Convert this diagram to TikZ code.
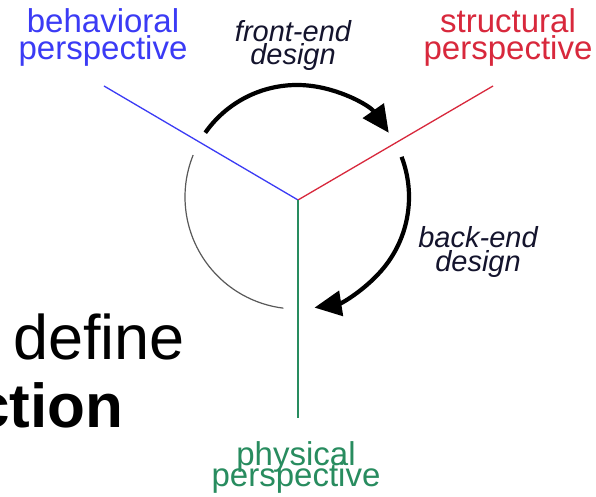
\documentclass[tikz,border=0pt]{standalone}
\usepackage{fontspec}
\setmainfont{Liberation Sans}
\usetikzlibrary{arrows.meta}
\definecolor{behblue}{RGB}{59,59,245}
\definecolor{strred}{RGB}{216,40,60}
\definecolor{phygreen}{RGB}{40,140,95}
\definecolor{labink}{RGB}{20,20,45}
\newcommand\mytightlines{\lineskiplimit=-30pt\relax\lineskip=0pt\relax}
\tikzset{
  axis/.style={line width=1.3pt},
  cyclearc/.style={line width=4.2pt, -{Triangle[length=27pt,width=25pt]}},
  backarc/.style={line width=1.2pt, draw=black!65},
  persp/.style={inner sep=0pt, align=center, font=\fontsize{33}{27}\selectfont\mytightlines},
  flow/.style={inner sep=0pt, align=center, text=labink, font=\fontsize{29}{23.5}\selectfont\itshape\mytightlines},
  bigtext/.style={inner sep=0pt, font=\fontsize{63}{70}\selectfont}
}
\begin{document}
\begin{tikzpicture}[x=1pt,y=1pt]
\useasboundingbox (0,0) rectangle (596,497);
\fill[white] (0,0) rectangle (596,497);
% axes
\coordinate (c) at (298,297);
\coordinate (bend) at (104,411);
\coordinate (send) at (493,411);
\coordinate (pend) at (298,79);
\coordinate (o) at (297,300);
\draw[axis, behblue] (c) -- (bend);
\draw[axis, strred] (c) -- (send);
\draw[axis, phygreen] (c) -- (pend);
% arcs
\draw[cyclearc] ([shift={(145:112pt)}]o) arc[start angle=145, end angle=35, radius=112pt];
\draw[cyclearc] ([shift={(21:112pt)}]o) arc[start angle=21, end angle=-81, radius=112pt];
\draw[backarc] ([shift={(158:112pt)}]o) arc[start angle=158, end angle=263, radius=112pt];
% labels (base anchor = baseline of the last line)
\node[persp, text=behblue, anchor=base] (beh) at (103,437) {behavioral\\perspective};
\node[persp, text=strred, anchor=base] (str) at (508,437) {structural\\perspective};
\node[persp, text=phygreen, anchor=base, font=\fontsize{33}{21}\selectfont\mytightlines] (phy) at (296,10) {physical\\perspective};
\node[flow, anchor=base] (fe) at (293,432) {front-end\\design};
\node[flow, anchor=base, font=\fontsize{29}{24}\selectfont\itshape\mytightlines] (be) at (478,225) {back-end\\design};
\node[bigtext, anchor=base west] (def) at (13,137) {define};
\node[bigtext, anchor=base west, font=\fontsize{62}{70}\selectfont\bfseries] (cti) at (-25,69) {ction};
\end{tikzpicture}
\end{document}
